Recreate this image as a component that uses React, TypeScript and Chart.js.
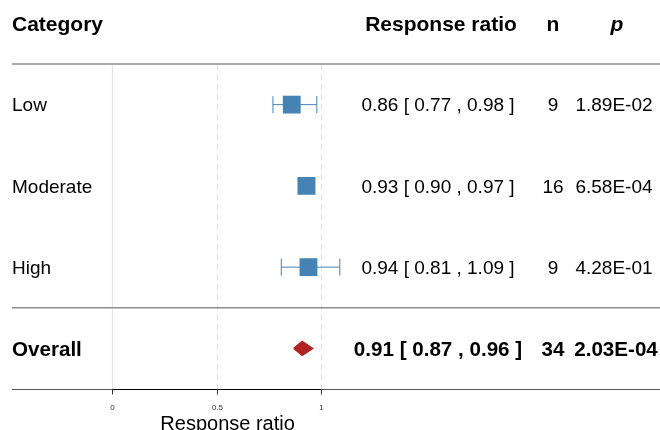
import React, { useEffect, useRef } from 'react';
import { Chart, registerables } from 'chart.js';

Chart.register(...registerables);

// ---- Data ----
const categories = ['Low', 'Moderate', 'High'];
const estimates = [0.86, 0.93, 0.94];
const lowerCI = [0.77, 0.90, 0.81];
const upperCI = [0.98, 0.97, 1.09];
const nValues = [9, 16, 9];
const pValues = ['1.89E-02', '6.58E-04', '4.28E-01'];

const overallLabel = 'Overall';
const overallEstimate = 0.91;
const overallLower = 0.87;
const overallUpper = 0.96;
const overallN = 34;
const overallP = '2.03E-04';

const xTicks = [0, 0.5, 1];
const headers = ['Category', 'Response ratio', 'n', 'p'];
const axisTitle = 'Response ratio';

const FONT = '"Liberation Sans", Arial, Helvetica, sans-serif';
const BLUE = '#4682B4';
const RED = '#B22222';

const fmt = (v: number) => v.toFixed(2);

const tablePlugin = {
  id: 'forestTable',
  beforeDatasetsDraw(chart: any) {
    const { ctx, chartArea, scales } = chart;
    const xs = scales.x;
    const ys = scales.y;
    ctx.save();
    const yTop = ys.getPixelForValue(-0.5);
    const yBot = ys.getPixelForValue(3.5);
    // vertical reference lines
    xTicks.forEach((t) => {
      const px = Math.round(xs.getPixelForValue(t)) + 0.5;
      ctx.beginPath();
      ctx.strokeStyle = '#e3e3e3';
      ctx.lineWidth = 1.2;
      ctx.setLineDash(t === 0 ? [] : [6, 4]);
      ctx.moveTo(px, yTop);
      ctx.lineTo(px, yBot);
      ctx.stroke();
    });
    ctx.setLineDash([]);
    // horizontal separators
    [-0.5, 2.5].forEach((v) => {
      const py = ys.getPixelForValue(v);
      ctx.beginPath();
      ctx.strokeStyle = '#8c8c8c';
      ctx.lineWidth = 1.6;
      ctx.moveTo(chartArea.left, py);
      ctx.lineTo(chartArea.right, py);
      ctx.stroke();
    });
    // bottom axis
    const ay = Math.round(yBot) + 0.5;
    ctx.beginPath();
    ctx.strokeStyle = '#555555';
    ctx.lineWidth = 1;
    ctx.moveTo(chartArea.left, ay);
    ctx.lineTo(chartArea.right, ay);
    ctx.stroke();
    ctx.beginPath();
    ctx.strokeStyle = '#000000';
    ctx.moveTo(xs.getPixelForValue(xTicks[0]), ay);
    ctx.lineTo(xs.getPixelForValue(xTicks[xTicks.length - 1]), ay);
    ctx.stroke();
    // ticks + labels
    ctx.fillStyle = '#333333';
    ctx.font = `8px ${FONT}`;
    ctx.textAlign = 'center';
    ctx.textBaseline = 'alphabetic';
    xTicks.forEach((t) => {
      const px = Math.round(xs.getPixelForValue(t)) + 0.5;
      ctx.beginPath();
      ctx.strokeStyle = '#333333';
      ctx.lineWidth = 1;
      ctx.moveTo(px, ay);
      ctx.lineTo(px, ay + 5);
      ctx.stroke();
      ctx.fillText(String(t), px, ay + 20);
    });
    // axis title
    ctx.fillStyle = '#000000';
    ctx.font = `20px ${FONT}`;
    ctx.fillText(axisTitle, xs.getPixelForValue(0.553), 430);
    ctx.restore();
  },
  afterDraw(chart: any) {
    const { ctx, chartArea, scales } = chart;
    const ys = scales.y;
    const colLabel = chartArea.left;
    const colRR = 439;
    const colN = 553;
    const colP = 614;
    const dy = 1.5;
    ctx.save();
    ctx.fillStyle = '#000000';
    ctx.textBaseline = 'middle';
    // headers
    const hy = 25;
    ctx.font = `bold 21px ${FONT}`;
    ctx.textAlign = 'left';
    ctx.fillText(headers[0], colLabel, hy);
    ctx.textAlign = 'center';
    ctx.fillText(headers[1], colRR + 2, hy);
    ctx.fillText(headers[2], colN, hy);
    ctx.font = `italic bold 21px ${FONT}`;
    ctx.fillText(headers[3], colP + 3, hy);
    // rows
    ctx.font = `19px ${FONT}`;
    categories.forEach((c, i) => {
      const py = ys.getPixelForValue(i) + dy;
      ctx.textAlign = 'left';
      ctx.fillText(c, colLabel, py);
      ctx.textAlign = 'center';
      ctx.fillText(`${fmt(estimates[i])} [ ${fmt(lowerCI[i])} , ${fmt(upperCI[i])} ]`, colRR - 1, py);
      ctx.fillText(String(nValues[i]), colN, py);
      ctx.fillText(pValues[i], colP, py);
    });
    // overall
    const oy = ys.getPixelForValue(3) + dy + 0.5;
    ctx.font = `bold 20.6px ${FONT}`;
    ctx.textAlign = 'left';
    ctx.fillText(overallLabel, colLabel, oy);
    ctx.textAlign = 'center';
    ctx.fillText(`${fmt(overallEstimate)} [ ${fmt(overallLower)} , ${fmt(overallUpper)} ]`, colRR - 1, oy);
    ctx.fillText(String(overallN), colN, oy);
    ctx.fillText(overallP, colP + 2, oy);
    ctx.restore();
  },
};

export default function App() {
  const ref = useRef<HTMLCanvasElement | null>(null);
  useEffect(() => {
    if (!ref.current) return;
    const diamondHalf = 0.086;
    const errorSets = categories.map((c, i) => ({
      type: 'line' as const,
      label: `${c} CI`,
      data: [
        { x: lowerCI[i], y: i },
        { x: upperCI[i], y: i },
      ],
      borderColor: BLUE,
      borderWidth: 1,
      showLine: true,
      pointStyle: 'line' as const,
      rotation: 90,
      pointRadius: 8.5,
      pointBorderWidth: 1,
      pointBorderColor: BLUE,
      fill: false,
      order: 2,
    }));
    const chart = new Chart(ref.current, {
      type: 'scatter',
      data: {
        datasets: [
          ...errorSets,
          {
            type: 'scatter' as const,
            label: 'Estimate',
            data: estimates.map((e, i) => ({ x: e, y: i })),
            pointStyle: 'rect',
            pointRadius: 12.6,
            backgroundColor: BLUE,
            borderWidth: 0,
            order: 1,
          },
          {
            type: 'line' as const,
            label: overallLabel,
            data: [
              { x: overallLower, y: 3 },
              { x: overallEstimate, y: 3 - diamondHalf },
              { x: overallUpper, y: 3 },
              { x: overallEstimate, y: 3 + diamondHalf },
              { x: overallLower, y: 3 },
            ],
            showLine: true,
            borderColor: RED,
            borderWidth: 1.5,
            borderJoinStyle: 'miter',
            backgroundColor: RED,
            fill: 'shape',
            pointRadius: 0,
            tension: 0,
            order: 0,
          },
        ] as any,
      },
      options: {
        animation: false,
        responsive: false,
        devicePixelRatio: 1,
        layout: { autoPadding: false, padding: { left: 12, right: 0, top: 64, bottom: 41 } },
        plugins: { legend: { display: false }, tooltip: { enabled: false } },
        scales: {
          x: { type: 'linear', min: -100 / 209, max: 548 / 209, display: false },
          y: { type: 'linear', min: -0.5, max: 3.5, reverse: true, display: false },
        },
      },
      plugins: [tablePlugin],
    });
    return () => chart.destroy();
  }, []);
  return (
    <div style={{ position: 'absolute', left: 0, top: 0, width: 660, height: 430, background: '#fff' }}>
      <canvas ref={ref} width={660} height={430} />
    </div>
  );
}
